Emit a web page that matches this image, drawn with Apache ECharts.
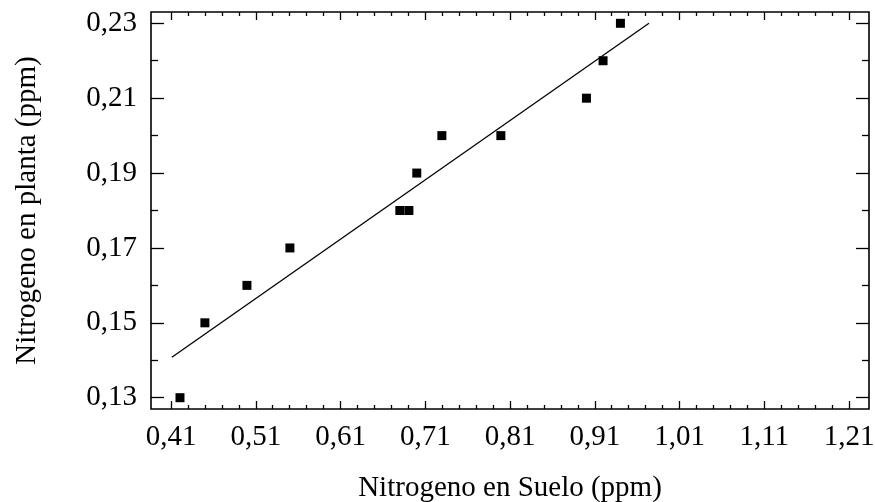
<!DOCTYPE html>
<html>
<head>
<meta charset="utf-8">
<script src="https://cdn.jsdelivr.net/npm/echarts@6/dist/echarts.min.js"></script>
<style>
html,body{margin:0;padding:0;background:#fff;}
#chart{width:875px;height:502px;}
</style>
</head>
<body>
<div id="chart"></div>
<script>
// Data
var soilN  = [0.4206, 0.450, 0.4996, 0.5503, 0.680, 0.6907, 0.700, 0.7296, 0.7992, 0.9002, 0.9198, 0.9403];
var plantN = [0.13,   0.15,  0.16,   0.17,   0.18,  0.18,   0.19,  0.20,   0.20,   0.21,   0.22,   0.23];
var fitX   = [0.411, 0.974];
var fitY   = [0.1408, 0.23];
var xTitle = 'Nitrogeno en Suelo (ppm)';
var yTitle = 'Nitrogeno en planta (ppm)';
var xMin = 0.41, xMax = 1.21, xStep = 0.1;
var yMin = 0.13, yMax = 0.23, yStep = 0.02;

function comma(v){ return (Math.round(v*100)/100).toFixed(2).replace('.', ','); }

var pts = soilN.map(function(x,i){ return [x, plantN[i]]; });
var fit = fitX.map(function(x,i){ return [x, fitY[i]]; });

var FONT = 'Liberation Serif';
var chart = echarts.init(document.getElementById('chart'), null, {renderer:'canvas'});

var xCommon = {
  type:'value', gridIndex:0, min:xMin, max:xMax, interval:xStep,
  axisLine:{show:false}, splitLine:{show:false},
  axisTick:{show:true, inside:true, length:8, lineStyle:{color:'#000', width:1.3}},
  minorTick:{show:true, splitNumber:5, length:4, lineStyle:{color:'#000', width:1.3}},
  minorSplitLine:{show:false}
};
var yCommon = {
  type:'value', gridIndex:0, min:yMin, max:yMax, interval:yStep,
  axisLine:{show:false}, splitLine:{show:false},
  axisTick:{show:true, inside:true, length:13, lineStyle:{color:'#000', width:1.3}},
  minorTick:{show:true, splitNumber:2, length:7, lineStyle:{color:'#000', width:1.3}},
  minorSplitLine:{show:false}
};

chart.setOption({
  backgroundColor:'#fff',
  animation:false,
  grid:[
    {left:171, right:26, top:23.3, bottom:104.3, show:false, containLabel:false, outerBoundsMode:'none'},
    {left:151, right:6, top:12, bottom:93, show:true, borderColor:'#000', borderWidth:1.6,
     backgroundColor:'transparent', containLabel:false, outerBoundsMode:'none'}
  ],
  xAxis:[
    Object.assign({}, xCommon, {position:'bottom', offset:11.3,
      axisLabel:{show:true, margin:14, fontFamily:FONT, fontSize:29, color:'#000', formatter:comma},
      name:xTitle, nameLocation:'middle', nameGap:65,
      nameTextStyle:{fontFamily:FONT, fontSize:29, color:'#000'}}),
    Object.assign({}, xCommon, {position:'top', offset:11.3, axisLabel:{show:false}}),
    {type:'value', gridIndex:1, show:false, min:0, max:1}
  ],
  yAxis:[
    Object.assign({}, yCommon, {position:'left', offset:20,
      axisLabel:{show:true, margin:14, fontFamily:FONT, fontSize:29, color:'#000', formatter:comma},
      name:yTitle, nameLocation:'middle', nameGap:109, nameRotate:90,
      nameTextStyle:{fontFamily:FONT, fontSize:29, color:'#000'}}),
    Object.assign({}, yCommon, {position:'right', offset:20, axisLabel:{show:false}}),
    {type:'value', gridIndex:1, show:false, min:0, max:1}
  ],
  series:[
    {type:'line', xAxisIndex:0, yAxisIndex:0, data:fit, symbol:'none',
     lineStyle:{color:'#000', width:1.3}, silent:true, clip:false},
    {type:'scatter', xAxisIndex:0, yAxisIndex:0, data:pts, symbol:'rect', symbolSize:9,
     itemStyle:{color:'#000', opacity:1}, clip:false}
  ]
});
</script>
</body>
</html>
